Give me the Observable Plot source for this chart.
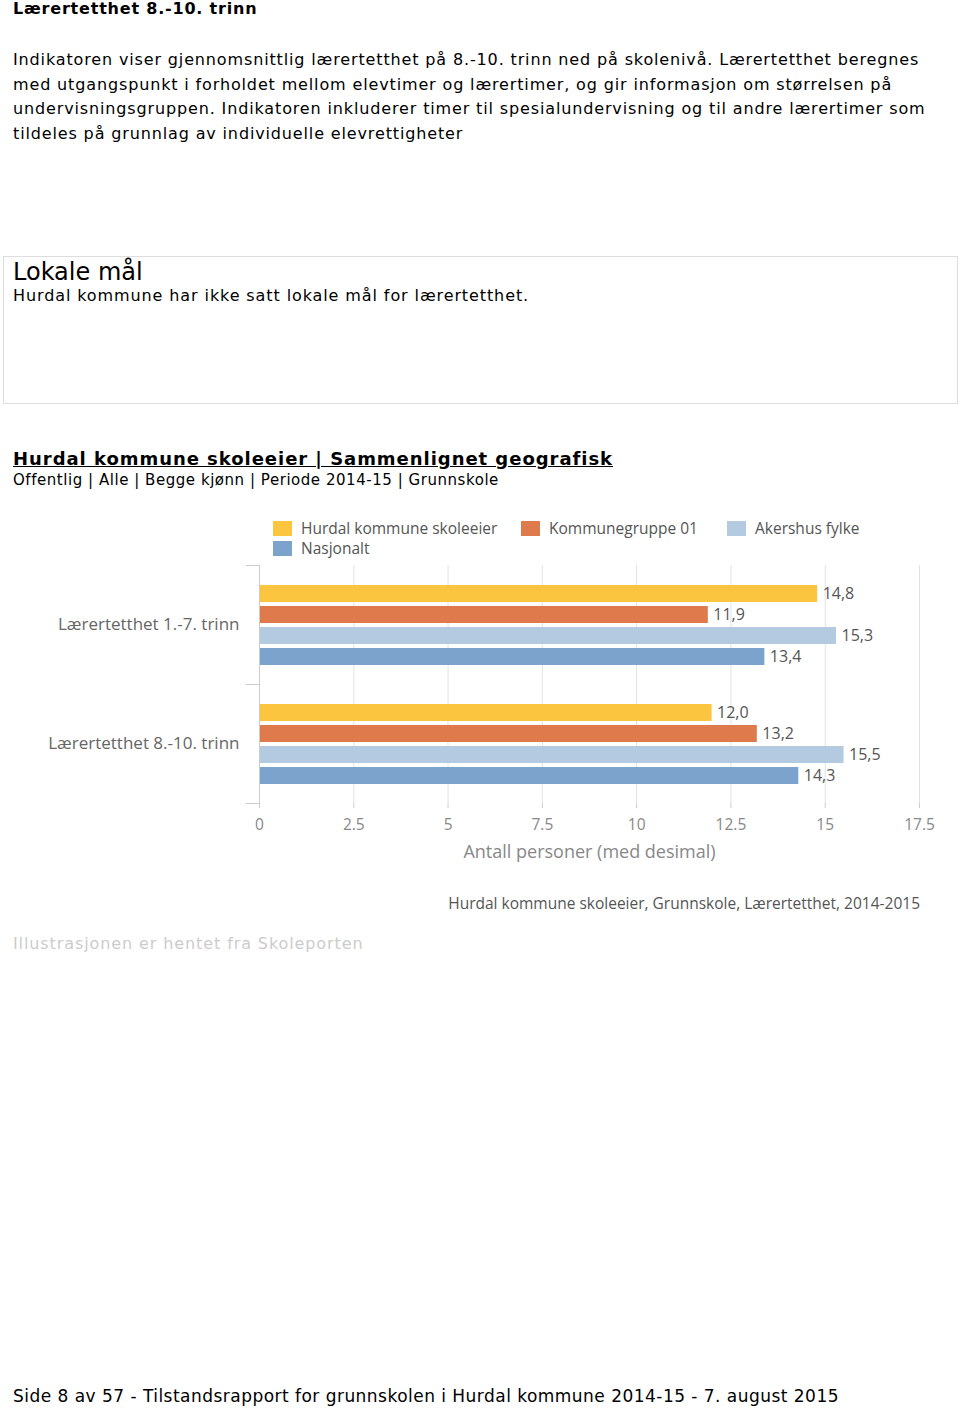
<!DOCTYPE html>
<html>
<head>
<meta charset="utf-8">
<script src="https://cdn.jsdelivr.net/npm/d3@7"></script>
<script src="https://cdn.jsdelivr.net/npm/@observablehq/plot@0.6"></script>
<style>
  html, body { margin: 0; padding: 0; background: #fff; }
  body { position: relative; width: 960px; height: 1410px; font-family: "DejaVu Sans", Verdana, sans-serif; color: #000; overflow: hidden; }
  .abs { position: absolute; white-space: nowrap; }
  #title { left: 13px; top: 0px; font-size: 16px; font-weight: bold; line-height: 18px; letter-spacing: 0.8px; }
  #intro { left: 13px; top: 48px; font-size: 16px; line-height: 24.7px; letter-spacing: 0.86px; }
  #box { left: 3px; top: 256px; width: 953px; height: 146px; border: 1px solid #ddd; }
  #boxTitle { left: 13px; top: 257px; font-size: 24px; line-height: 30px; }
  #boxText { left: 13px; top: 286px; font-size: 16px; line-height: 20px; letter-spacing: 0.9px; }
  #h2 { left: 13px; top: 448px; font-size: 18px; font-weight: bold; text-decoration: underline; line-height: 22px; letter-spacing: 0.96px; }
  #sub { left: 13px; top: 470px; font-size: 15px; line-height: 20px; letter-spacing: 0.54px; }
  #legend { left: 273px; top: 518px; width: 660px; display: flex; flex-wrap: wrap; font-family: "Open Sans", sans-serif; font-size: 15.5px; color: #555; }
  .li { display: flex; align-items: center; height: 20px; }
  .sw { width: 19px; height: 15px; margin-right: 9px; }
  #chart { left: 0px; top: 560px; }
  #credits { right: 40px; top: 893px; font-family: "Open Sans", sans-serif; font-size: 15.5px; color: #555; line-height: 20px; }
  #illu { left: 13px; top: 934px; font-size: 16px; color: #ccc; line-height: 20px; letter-spacing: 0.9px; }
  #footer { left: 13px; top: 1385px; font-size: 17px; line-height: 22px; letter-spacing: 0.47px; }
</style>
</head>
<body>
<div id="title" class="abs">Lærertetthet 8.-10. trinn</div>
<div id="intro" class="abs">Indikatoren viser gjennomsnittlig lærertetthet på 8.-10. trinn ned på skolenivå. Lærertetthet beregnes<br>med utgangspunkt i forholdet mellom elevtimer og lærertimer, og gir informasjon om størrelsen på<br>undervisningsgruppen. Indikatoren inkluderer timer til spesialundervisning og til andre lærertimer som<br>tildeles på grunnlag av individuelle elevrettigheter</div>
<div id="box" class="abs"></div>
<div id="boxTitle" class="abs">Lokale mål</div>
<div id="boxText" class="abs">Hurdal kommune har ikke satt lokale mål for lærertetthet.</div>
<div id="h2" class="abs">Hurdal kommune skoleeier | Sammenlignet geografisk</div>
<div id="sub" class="abs">Offentlig | Alle | Begge kjønn | Periode 2014-15 | Grunnskole</div>
<div id="legend" class="abs"></div>
<div id="chart" class="abs"></div>
<div id="credits" class="abs">Hurdal kommune skoleeier, Grunnskole, Lærertetthet, 2014-2015</div>
<div id="illu" class="abs">Illustrasjonen er hentet fra Skoleporten</div>
<div id="footer" class="abs">Side 8 av 57 - Tilstandsrapport for grunnskolen i Hurdal kommune 2014-15 - 7. august 2015</div>
<script>
const categories = ["Lærertetthet 1.-7. trinn", "Lærertetthet 8.-10. trinn"];
const series = ["Hurdal kommune skoleeier", "Kommunegruppe 01", "Akershus fylke", "Nasjonalt"];
const values1to7 = [14.8, 11.9, 15.3, 13.4];
const values8to10 = [12.0, 13.2, 15.5, 14.3];
const colors = ["#FCC53F", "#DF7A4C", "#B3CAE0", "#7BA3CB"];
const xTicks = [0, 2.5, 5, 7.5, 10, 12.5, 15, 17.5];
const xLabel = "Antall personer (med desimal)";

const data = [];
[values1to7, values8to10].forEach((vals, ci) => {
  vals.forEach((v, si) => data.push({category: categories[ci], series: series[si], value: v}));
});

// legend
const legendWidths = [248, 206, 206, 248];
const legend = document.getElementById("legend");
series.forEach((s, i) => {
  const item = document.createElement("div");
  item.className = "li";
  item.style.width = legendWidths[i] + "px";
  const sw = document.createElement("span");
  sw.className = "sw";
  sw.style.background = colors[i];
  const t = document.createElement("span");
  t.textContent = s;
  item.appendChild(sw);
  item.appendChild(t);
  legend.appendChild(item);
});

const fmt = v => v.toFixed(1).replace(".", ",");
const plotH = 305, mTop = 5, mBottom = 62;
const halfBand = (plotH - mTop - mBottom) / categories.length / 2;

const chart = Plot.plot({
  width: 960,
  height: plotH,
  marginTop: mTop,
  marginBottom: mBottom,
  marginLeft: 259,
  marginRight: 41,
  style: {fontFamily: "'Open Sans', sans-serif", fontSize: "14px", color: "#777", background: "transparent", overflow: "visible"},
  x: {domain: [0, 17.5]},
  y: {domain: series, paddingInner: 0.2, paddingOuter: 0.9, axis: null},
  fy: {domain: categories, padding: 0},
  color: {domain: series, range: colors},
  marks: [
    Plot.gridX(xTicks, {stroke: "#e2e2e2", strokeOpacity: 1}),
    Plot.barX(data, {x: "value", y: "series", fy: "category", fill: "series"}),
    Plot.text(data, {x: "value", y: "series", fy: "category", text: d => fmt(d.value), textAnchor: "start", dx: 5, fill: "#555", fontSize: 16}),
    Plot.ruleX([0], {stroke: "#ccc"}),
    Plot.axisX(xTicks, {tickSize: 5, tickPadding: 10, stroke: "#ccc", fill: "#888", fontSize: 15.5, tickFormat: d => String(d), label: null}),
    Plot.axisX({ticks: [], label: xLabel, labelArrow: "none", labelAnchor: "center", labelOffset: 54, fontSize: 18, fill: "#888", tickSize: 0}),
    Plot.axisFy({anchor: "left", tickSize: 13, tickFormat: () => "", stroke: "#ccc", label: null, dy: -halfBand}),
    Plot.axisFy({anchor: "left", tickSize: 13, tickFormat: () => "", stroke: "#ccc", label: null, dy: halfBand}),
    Plot.axisFy({anchor: "left", tickSize: 0, tickPadding: 20, label: null, fontSize: 17, fill: "#666"})
  ]
});
document.getElementById("chart").appendChild(chart);
</script>
</body>
</html>
